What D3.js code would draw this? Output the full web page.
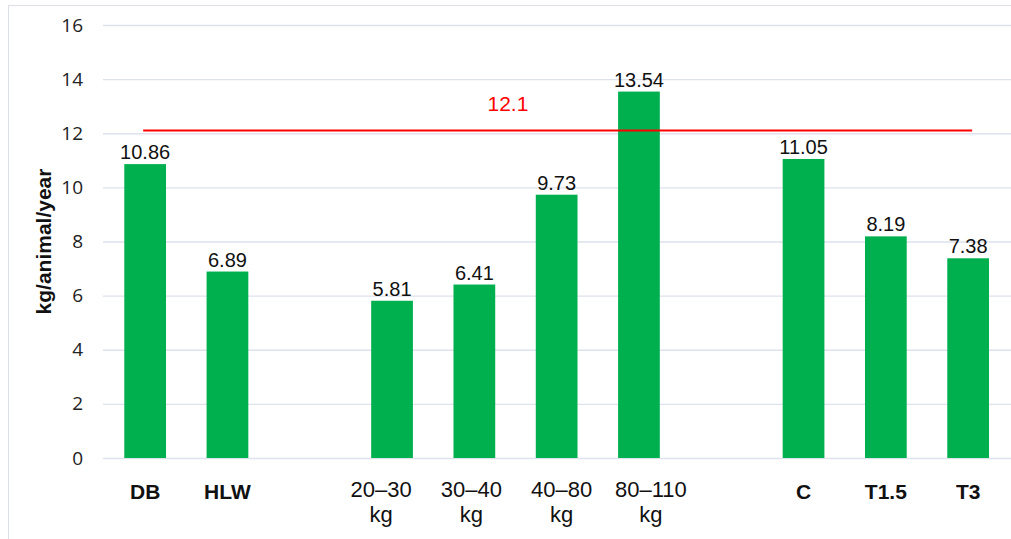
<!DOCTYPE html>
<html>
<head>
<meta charset="utf-8">
<script src="https://cdn.jsdelivr.net/npm/d3@7"></script>
<style>
  html, body { margin: 0; padding: 0; background: #fff; }
  svg { display: block; }
</style>
</head>
<body>
<svg id="chart" width="1011" height="539"></svg>
<script>
// Category slots along the x axis; empty strings are spacer slots between groups
const categories = ["DB", "HLW", "", "20–30 kg", "30–40 kg", "40–80 kg", "80–110 kg", "", "C", "T1.5", "T3"];
// Annual amount per animal (kg/animal/year); null marks a spacer slot
const values = [10.86, 6.89, null, 5.81, 6.41, 9.73, 13.54, null, 11.05, 8.19, 7.38];
const yTicks = [0, 2, 4, 6, 8, 10, 12, 14, 16];
const referenceValue = 12.1;
const yTitle = "kg/animal/year";

const W = 1011, H = 539;
const plot = { left: 104, right: 1009.3, top: 25, bottom: 458 };

const svg = d3.select("#chart");

// outer frame
svg.append("rect")
  .attr("x", 8.5).attr("y", 5.5)
  .attr("width", 1100).attr("height", 600)
  .attr("fill", "#fff")
  .attr("stroke", "#dcdfe6").attr("stroke-width", 1);

const x = d3.scaleBand()
  .domain(d3.range(categories.length))
  .range([plot.left, plot.right])
  .paddingInner(0.493)
  .paddingOuter(0.2465);

const y = d3.scaleLinear()
  .domain([0, 16])
  .range([plot.bottom, plot.top]);

// y axis with gridlines
const yAxis = svg.append("g")
  .attr("transform", `translate(${plot.left - 1},0)`)
  .call(d3.axisLeft(y)
    .tickValues(yTicks)
    .tickSize(-(W - plot.left + 1))
    .tickPadding(20)
    .tickFormat(d3.format("d")));
yAxis.select(".domain").remove();
yAxis.selectAll(".tick line")
  .attr("stroke", "#dde2ec").attr("stroke-width", 1.3);
yAxis.selectAll(".tick text")
  .attr("fill", "#222")
  .style("font-family", "'Open Sans', 'Liberation Sans', sans-serif")
  .style("font-size", "19px");

// y axis title
svg.append("text")
  .attr("transform", `translate(51,${(plot.top + plot.bottom) / 2}) rotate(-90)`)
  .attr("text-anchor", "middle")
  .style("font-family", "'Liberation Sans', Arial, sans-serif")
  .style("font-weight", "bold")
  .style("font-size", "21px")
  .attr("fill", "#111")
  .text(yTitle);

// bars
const barData = values.map((v, i) => ({ i, v })).filter(d => d.v != null);
svg.append("g").selectAll("rect")
  .data(barData)
  .join("rect")
  .attr("x", d => x(d.i))
  .attr("width", x.bandwidth())
  .attr("y", d => y(d.v))
  .attr("height", d => y(0) - y(d.v))
  .attr("fill", "#00b04f");

// value labels
svg.append("g").selectAll("text")
  .data(barData)
  .join("text")
  .attr("x", d => x(d.i) + x.bandwidth() / 2)
  .attr("y", d => y(d.v) - 5)
  .attr("text-anchor", "middle")
  .style("font-family", "'Liberation Sans', Arial, sans-serif")
  .style("font-size", "20px")
  .attr("fill", "#111")
  .text(d => d.v.toFixed(2));

// reference line
const cx = i => x(i) + x.bandwidth() / 2;
const lx1 = cx(0) - 2, lx2 = cx(categories.length - 1) + 4;
svg.append("line")
  .attr("x1", lx1).attr("x2", lx2)
  .attr("y1", y(referenceValue)).attr("y2", y(referenceValue))
  .attr("stroke", "#f00").attr("stroke-width", 2);
svg.append("text")
  .attr("x", lx1 + 0.44 * (lx2 - lx1))
  .attr("y", y(referenceValue) - 20)
  .attr("text-anchor", "middle")
  .style("font-family", "'Liberation Sans', Arial, sans-serif")
  .style("font-size", "21px")
  .attr("fill", "#f00")
  .text(referenceValue);

// x axis category labels
const xAxis = svg.append("g")
  .attr("transform", `translate(0,${plot.bottom})`)
  .call(d3.axisBottom(x).tickSize(0).tickFormat(i => categories[i]));
xAxis.select(".domain").remove();
xAxis.selectAll(".tick").filter(i => categories[i] === "").remove();

// weight-range labels sit as two lines, nudged slightly sideways
const rangeNudge = { "20–30 kg": -11, "30–40 kg": -3, "40–80 kg": 5, "80–110 kg": 12 };
xAxis.selectAll(".tick text").each(function (i) {
  const t = d3.select(this);
  const label = categories[i];
  t.attr("fill", "#111").attr("dy", null).attr("y", 0);
  if (label.endsWith(" kg")) {
    const parts = [label.slice(0, -3), "kg"];
    const dx = rangeNudge[label] || 0;
    t.text(null)
      .style("font-family", "'Liberation Sans', Arial, sans-serif")
      .style("font-size", "22px");
    parts.forEach((p, k) => {
      t.append("tspan").attr("x", dx).attr("y", 39 + k * 25).text(p);
    });
  } else {
    t.attr("y", 41)
      .style("font-family", "'Liberation Sans', Arial, sans-serif")
      .style("font-weight", "bold")
      .style("font-size", "21px");
  }
});
</script>
</body>
</html>
